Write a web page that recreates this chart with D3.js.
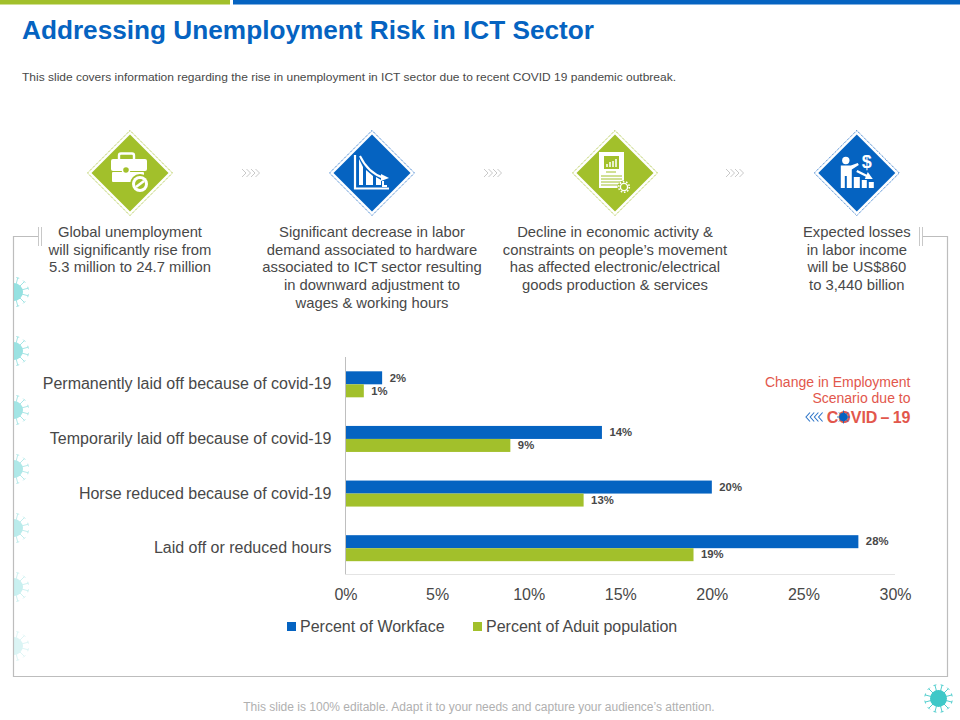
<!DOCTYPE html>
<html><head><meta charset="utf-8">
<script src="https://cdn.jsdelivr.net/npm/d3@7"></script>
<style>html,body{margin:0;padding:0;background:#fff}svg{display:block}text{font-family:"Liberation Sans",Arial,sans-serif}</style>
</head><body><div id="c"></div>
<script>
const categories=["Permanently laid off because of covid-19","Temporarily laid off because of covid-19","Horse reduced because of covid-19","Laid off or reduced hours"];
const workforce=[2,14,20,28];
const adult=[1,9,13,19];
const xTicks=[0,5,10,15,20,25,30];
const legendLabels=["Percent of Workface","Percent of Aduit population"];
const captions=[
 ["Global unemployment","will significantly rise from","5.3 million to 24.7 million"],
 ["Significant decrease in labor","demand associated to hardware","associated to ICT sector resulting","in downward adjustment to","wages & working hours"],
 ["Decline in economic activity &","constraints on people\u2019s movement","has affected electronic/electrical","goods production & services"],
 ["Expected losses","in labor income","will be US$860","to 3,440 billion"]];
const BLUE="#0563c1",GREEN="#a2c02b",TXT="#484848";
const svg=d3.select("#c").append("svg").attr("width",960).attr("height",720);
svg.append("rect").attr("x",0).attr("y",0).attr("width",230).attr("height",4.5).attr("fill",GREEN);
svg.append("rect").attr("x",233).attr("y",0).attr("width",727).attr("height",4.5).attr("fill",BLUE);
svg.append("text").attr("x",22).attr("y",39).attr("font-size",26.5).attr("font-weight",700).attr("fill",BLUE).attr("textLength",572).attr("lengthAdjust","spacingAndGlyphs").text("Addressing Unemployment Risk in ICT Sector");
svg.append("text").attr("x",22).attr("y",81).attr("font-size",10.7).attr("fill",TXT).attr("textLength",654).attr("lengthAdjust","spacingAndGlyphs").text("This slide covers information regarding the rise in unemployment in ICT sector due to recent COVID 19 pandemic outbreak.");
// frame
svg.append("path").attr("fill","none").attr("stroke","#bdbdbd").attr("stroke-width",1.2)
 .attr("d","M38.5,236.5H13.5V676.5H947.5V236.5H922.5");
svg.append("path").attr("fill","none").attr("stroke","#c8c8c8").attr("stroke-width",1)
 .attr("d","M38.5,227V246M41.5,227V246M919.5,227V246M922.5,227V246");
// virus
function virus(cx,cy,r,color,op,clipLeft){
 const n=svg.append("g").attr("opacity",op);
 if(clipLeft!==undefined){
  const id="cl"+Math.round(cy);
  svg.append("clipPath").attr("id",id).append("rect").attr("x",clipLeft).attr("y",cy-r*3).attr("width",r*4).attr("height",r*6);
  n.attr("clip-path",`url(#${id})`);
 }
 n.append("circle").attr("cx",cx).attr("cy",cy).attr("r",r).attr("fill",color);
 for(let i=0;i<12;i++){
  const a=i*Math.PI/6+Math.PI/12,l=r*1.62,c=Math.cos(a),s=Math.sin(a);
  n.append("line").attr("x1",cx+c*r*.9).attr("y1",cy+s*r*.9).attr("x2",cx+c*l).attr("y2",cy+s*l).attr("stroke",color).attr("stroke-width",.9);
  n.append("line").attr("x1",cx+c*l-s*1.5).attr("y1",cy+s*l+c*1.5).attr("x2",cx+c*l+s*1.5).attr("y2",cy+s*l-c*1.5).attr("stroke",color).attr("stroke-width",.9);
 }
}
[292,351,410,469,528,587,646].forEach((y,i)=>virus(14,y,9,"#8adede",[.9,.85,.78,.68,.58,.45,.3][i],14));
virus(938.5,698.5,8.5,"#3fc8c8",1);
// diamonds
const dia=[[130,173,GREEN,"#a9c437"],[372,173,BLUE,"#2f78cc"],[615,173,GREEN,"#a9c437"],[856.8,173,BLUE,"#2f78cc"]];
dia.forEach(([x,y,f,s])=>{
 const P=r=>`M${x},${y-r}L${x+r},${y}L${x},${y+r}L${x-r},${y}Z`;
 svg.append("path").attr("d",P(42.5)).attr("fill","none").attr("stroke",s).attr("stroke-width",1).attr("stroke-dasharray","1.2 .9");
 svg.append("path").attr("d",P(38.5)).attr("fill",f);
});
const W="#fff";
(function(){const g=svg.append("g").attr("transform","translate(130,173)");
 g.append("rect").attr("x",-11).attr("y",-19.5).attr("width",15).attr("height",8).attr("rx",2).attr("fill","none").attr("stroke",W).attr("stroke-width",2.4);
 g.append("rect").attr("x",-19).attr("y",-14).attr("width",36).attr("height",12).attr("rx",2).attr("fill",W);
 g.append("rect").attr("x",-18).attr("y",-1).attr("width",32).attr("height",10).attr("rx",1).attr("fill",W);
 g.append("circle").attr("cx",-4).attr("cy",-3).attr("r",3.6).attr("fill",GREEN).attr("stroke",W).attr("stroke-width",1.6);
 g.append("circle").attr("cx",10).attr("cy",11).attr("r",10).attr("fill",GREEN);
 g.append("circle").attr("cx",10).attr("cy",11).attr("r",8).attr("fill",W);
 g.append("circle").attr("cx",10).attr("cy",11).attr("r",5).attr("fill",GREEN);
 g.append("line").attr("x1",6).attr("y1",14).attr("x2",14).attr("y2",8).attr("stroke",W).attr("stroke-width",2.5);
})();
(function(){const g=svg.append("g").attr("transform","translate(372,173)");
 g.append("path").attr("d","M-17,-18V15.5H17").attr("fill","none").attr("stroke",W).attr("stroke-width",2.2);
 g.append("path").attr("d","M-13,12V-14L-9,-6V12Z M-6,12V-3L1,3V12Z M4,12V4L9,7V12Z").attr("fill",W);
 g.append("path").attr("d","M-12,-17Q-4,0 12,5").attr("fill","none").attr("stroke",W).attr("stroke-width",2);
 g.append("path").attr("d","M9,1L17,5L9,8Z").attr("fill",W);
 g.append("path").attr("d","M11,8V13H15").attr("fill","none").attr("stroke",W).attr("stroke-width",2);
})();
(function(){const g=svg.append("g").attr("transform","translate(615,173)");
 g.append("rect").attr("x",-16).attr("y",-21).attr("width",25).attr("height",36).attr("fill",W);
 g.append("rect").attr("x",-11).attr("y",-17).attr("width",15).attr("height",13).attr("fill",GREEN);
 g.append("path").attr("d","M-8,-6V-9M-5,-6V-11M-2,-6V-12M1,-6V-14").attr("stroke",W).attr("stroke-width",1.5);
 g.append("path").attr("d","M-9,-1H1M-14,3H7M-14,6H7M-14,9H7M-14,12H4").attr("stroke",GREEN).attr("stroke-width",1);
 g.append("circle").attr("cx",9).attr("cy",14).attr("r",6.5).attr("fill",GREEN);
 g.append("circle").attr("cx",9).attr("cy",14).attr("r",3.6).attr("fill","none").attr("stroke",W).attr("stroke-width",1.4);
 g.append("circle").attr("cx",9).attr("cy",14).attr("r",5.3).attr("fill","none").attr("stroke",W).attr("stroke-width",1.6).attr("stroke-dasharray","1.6 1.7");
})();
(function(){const g=svg.append("g").attr("transform","translate(856.8,173)");
 g.append("circle").attr("cx",-11).attr("cy",-12.5).attr("r",3.7).attr("fill",W);
 g.append("path").attr("d","M-16,-7.5H-6L1,-10L2,-8L-5,-3.5V15H-10V3H-12V15H-16Z").attr("fill",W);
 g.append("path").attr("d","M-3,4H3V15H-3Z M5,7H10V15H5Z M12,9H17V15H12Z").attr("fill",W);
 g.append("path").attr("d","M0,-2L12,4").attr("stroke",W).attr("stroke-width",2.5);
 g.append("path").attr("d","M11,-1L16,6L8,6Z").attr("fill",W);
 g.append("text").attr("x",10).attr("y",-5).attr("font-size",18).attr("font-weight",700).attr("fill",W).attr("text-anchor","middle").text("$");
})();
// chevrons
[[242,173],[484,173],[726,173]].forEach(([x,y])=>{
 for(let i=0;i<4;i++) svg.append("path").attr("d",`M${x+i*4.5},${y-4}l4,4l-4,4`).attr("fill","none").attr("stroke","#c9c9c9").attr("stroke-width",1);
});
// captions
const capX=[130,372,615,856.8];
captions.forEach((ls,i)=>ls.forEach((l,j)=>{
 svg.append("text").attr("x",capX[i]).attr("y",236.8+j*17.7).attr("text-anchor","middle").attr("font-size",14.8).attr("fill",TXT).text(l);
}));
// chart
const x=d3.scaleLinear().domain([0,30]).range([345.5,895]);
const y=d3.scaleBand().domain(categories).range([357,575.5]);
const barH=13;
const bar=svg.append("g");
[[workforce,BLUE,-barH],[adult,GREEN,0]].forEach(([vals,col,off])=>{
 bar.selectAll(null).data(vals).enter().append("rect")
  .attr("x",x(0)).attr("y",(d,i)=>y(categories[i])+y.bandwidth()/2+off)
  .attr("width",d=>x(d)-x(0)).attr("height",barH).attr("fill",col);
 bar.selectAll(null).data(vals).enter().append("text")
  .attr("x",d=>x(d)+7.5).attr("y",(d,i)=>y(categories[i])+y.bandwidth()/2+off+barH/2+3.7)
  .attr("font-size",11.3).attr("font-weight",700).attr("fill",TXT).text(d=>d+"%");
});
svg.append("line").attr("x1",345.5).attr("x2",345.5).attr("y1",357).attr("y2",574.5).attr("stroke","#bfbfbf");
svg.append("line").attr("x1",345.5).attr("x2",895).attr("y1",574.5).attr("y2",574.5).attr("stroke","#e4e4e4");
const yAxis=svg.append("g").attr("transform","translate(345.5,0)").call(d3.axisLeft(y).tickSize(0).tickPadding(14));
yAxis.select(".domain").remove();
yAxis.selectAll("text").attr("font-size",16).attr("fill",TXT).style("font-family",'"Liberation Sans",Arial,sans-serif');
const xAxis=svg.append("g").attr("transform","translate(0,575.5)").call(d3.axisBottom(x).tickValues(xTicks).tickFormat(d=>d+"%").tickSize(0).tickPadding(13));
xAxis.select(".domain").remove();
xAxis.selectAll("text").attr("font-size",16).attr("fill",TXT).style("font-family",'"Liberation Sans",Arial,sans-serif');
// legend
[[287,BLUE,300],[473,GREEN,486]].forEach(([sx,c,tx],i)=>{
 svg.append("rect").attr("x",sx).attr("y",622).attr("width",9).attr("height",9).attr("fill",c);
 svg.append("text").attr("x",tx).attr("y",632).attr("font-size",16).attr("fill",TXT).text(legendLabels[i]);
});
// annotation
const RED="#e2574c";
svg.append("text").attr("x",910.5).attr("y",387).attr("text-anchor","end").attr("font-size",14).attr("fill",RED).text("Change in Employment");
svg.append("text").attr("x",910.5).attr("y",403).attr("text-anchor","end").attr("font-size",14).attr("fill",RED).text("Scenario due to");
svg.append("text").attr("x",910.5).attr("y",422.5).attr("text-anchor","end").attr("font-size",16).attr("font-weight",700).attr("fill",RED).text("COVID\u2009\u2013\u200919");
for(let i=0;i<4;i++) svg.append("path").attr("d",`M${810+i*4.2},412.5l-4,4.5l4,4.5`).attr("fill","none").attr("stroke","#2e75c8").attr("stroke-width",1.1);
svg.append("circle").attr("cx",843.5).attr("cy",417).attr("r",4.3).attr("fill",BLUE);
for(let i=0;i<8;i++){const a=i*Math.PI/4;svg.append("line").attr("x1",843.5+Math.cos(a)*4).attr("y1",417+Math.sin(a)*4).attr("x2",843.5+Math.cos(a)*6.5).attr("y2",417+Math.sin(a)*6.5).attr("stroke",BLUE).attr("stroke-width",.8);}
// footer
svg.append("text").attr("x",479).attr("y",710.5).attr("text-anchor","middle").attr("font-size",12).attr("fill","#b0b0b0").text("This slide is 100% editable. Adapt it to your needs and capture your audience\u2019s attention.");
</script></body></html>
